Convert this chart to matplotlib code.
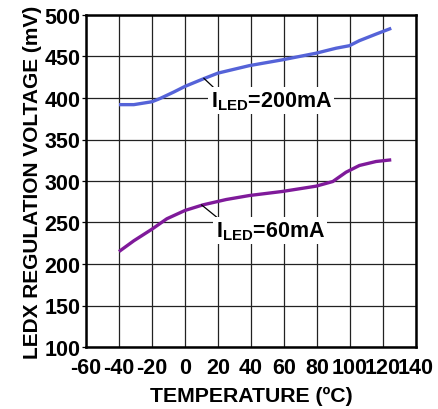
import matplotlib
matplotlib.use("Agg")
import matplotlib.pyplot as plt

plt.rcParams['font.family'] = ['Liberation Sans', 'DejaVu Sans']

temp_200 = [-40, -31, -20, -15, -7, 0, 11, 20, 39, 59, 79.5, 85.5, 91.6, 99.6, 105.6, 115.8, 125]
v_200 = [392, 392, 395.5, 399.5, 407, 414, 423, 430, 439, 446, 454, 457, 460, 463, 469, 477, 484]

temp_60 = [-40, -31, -20, -11, 0, 11, 25, 39, 59, 79.5, 89.6, 97.6, 105.7, 115.8, 125]
v_60 = [215, 228, 242, 254.5, 264.5, 271.3, 277.7, 282.5, 287.4, 293.8, 299.4, 310.6, 318.7, 323.5, 325.5]

xticks = [-60, -40, -20, 0, 20, 40, 60, 80, 100, 120, 140]
yticks = [100, 150, 200, 250, 300, 350, 400, 450, 500]

fig = plt.figure(figsize=(4.39, 4.10), dpi=100)
ax = fig.add_axes([86/439, 1 - 348/410, 330/439, 332/410])

ax.plot(temp_200, v_200, color='#5563D8', lw=2.4, solid_capstyle='butt', zorder=3)
ax.plot(temp_60, v_60, color='#7F1A9A', lw=2.4, solid_capstyle='butt', zorder=3)

ax.set_xlim(-60, 140)
ax.set_ylim(100, 500)
ax.set_xticks(xticks)
ax.set_yticks(yticks)
ax.set_xticklabels([str(t) for t in xticks])
ax.set_yticklabels([str(t) for t in yticks])
ax.grid(True, color='#222222', lw=0.9)
ax.set_axisbelow(True)
for s in ax.spines.values():
    s.set_linewidth(1.8)
ax.tick_params(axis='both', labelsize=15.5, length=3, width=0.9, direction='out')
ax.tick_params(axis='x', length=0, pad=7)
ax.tick_params(axis='y', pad=1)
for lab in ax.get_xticklabels() + ax.get_yticklabels():
    lab.set_fontweight('bold')

ax.set_xlabel('TEMPERATURE (ºC)', fontsize=15.3, fontweight='bold', labelpad=6)
ax.set_ylabel('LEDX REGULATION VOLTAGE (mV)', fontsize=15, fontweight='bold', labelpad=2)

bbox = dict(boxstyle='square,pad=0.1', fc='white', ec='none')
ax.annotate(r'I$_{\mathregular{LED}}$=200mA', xy=(11.4, 423.8), xytext=(15.5, 397),
            fontsize=15.5, fontweight='bold', va='center', ha='left', bbox=bbox,
            arrowprops=dict(arrowstyle='-', color='black', lw=0.9, shrinkA=0, shrinkB=0,
                            relpos=(0.05, 0.95)), zorder=4)
ax.annotate(r'I$_{\mathregular{LED}}$=60mA', xy=(10, 271.3), xytext=(18.5, 240),
            fontsize=15.5, fontweight='bold', va='center', ha='left', bbox=bbox,
            arrowprops=dict(arrowstyle='-', color='black', lw=0.9, shrinkA=0, shrinkB=0,
                            relpos=(0.05, 0.95)), zorder=4)

fig.savefig('out.png', dpi=100)
